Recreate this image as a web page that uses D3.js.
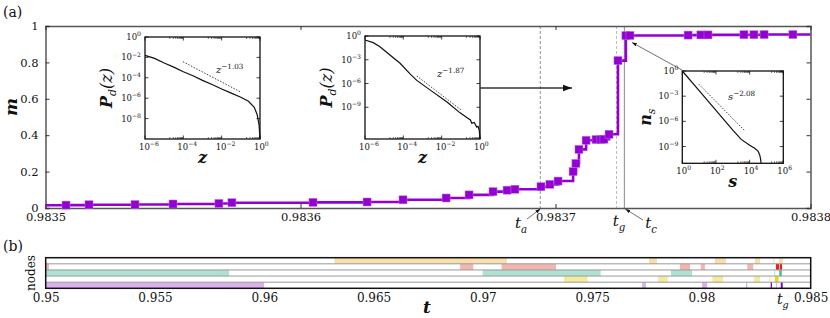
<!DOCTYPE html>
<html>
<head>
<meta charset="utf-8">
<script src="https://cdn.jsdelivr.net/npm/d3@7"></script>
<style>
  body { margin: 0; background: #fff; }
  svg text, svg tspan { font-family: "DejaVu Serif", "Liberation Serif", serif; fill: #111; }
</style>
</head>
<body>
<div id="chart"></div>
<script>
// ---- data, panel (a): order parameter m(t)
var tValues = [0.98350804, 0.98351706, 0.9835351, 0.98355, 0.983568, 0.9835731,
    0.9836049, 0.9836261, 0.9836402, 0.9836571, 0.9836661, 0.9836755, 0.983681,
    0.9836841, 0.9836943, 0.9836978, 0.983701, 0.9837069, 0.983708, 0.9837092,
    0.983712, 0.9837159, 0.9837178, 0.983719, 0.983721, 0.9837245, 0.9837276,
    0.9837292, 0.983752, 0.983757, 0.9837598, 0.9837739, 0.9837778, 0.9837818,
    0.9837931];
var mValues = [0.016, 0.018, 0.019, 0.022, 0.025, 0.029,
    0.031, 0.033, 0.045, 0.055, 0.072, 0.090, 0.098,
    0.103, 0.117, 0.130, 0.148, 0.200, 0.245, 0.322,
    0.372, 0.376, 0.376, 0.378, 0.405, 0.810, 0.947,
    0.948, 0.950, 0.951, 0.951, 0.952, 0.952, 0.953,
    0.953];
var mStart = 0.015, mEnd = 0.953;
var xTicksA = [0.9835, 0.9836, 0.9837, 0.9838];
var yTicksA = [0, 0.2, 0.4, 0.6, 0.8, 1];
var tA = 0.98369404, tG = 0.9837245, tC = 0.983727;

// ---- insets (log10 values)
var in1LogZ = [-6, -5.5, -5, -4.5, -4, -3.5, -3, -2.5, -2, -1.5, -1, -0.6, -0.3, -0.15, -0.05, 0];
var in1LogP = [-1.8, -2.1, -2.55, -2.95, -3.4, -3.8, -4.25, -4.65, -5.1, -5.5, -5.9, -6.3, -6.9, -7.6, -8.6, -10];
var in1Fit = [[-4.02, -2.42], [-1.04, -5.36]];
var in2LogZ = [-6, -5.57, -5.22, -4.7, -4.17, -3.65, -3.3, -2.61, -1.74, -1.04, -0.69, -0.5, -0.43, -0.3, -0.17, -0.1, -0.04, 0];
var in2LogP = [-0.5, -0.84, -1.35, -2.4, -3.44, -4.79, -5.6, -6.8, -8.3, -9.7, -10.3, -10.6, -11.0, -10.9, -11.5, -11.4, -11.9, -13];
var in2Fit = [[-3.3, -5.04], [-0.99, -9.33]];
var in3LogS = [0, 1, 2, 3, 3.5, 4, 4.3, 4.5, 4.6, 4.65, 4.68];
var in3LogN = [0, -2.35, -4.7, -7.05, -8.15, -8.85, -9.2, -9.55, -10.0, -10.5, -11];
var in3Fit = [[0.99, -1.58], [3.69, -7.08]];

// ---- data, panel (b): active nodes
var rowsB = ["n1", "n2", "n3", "n4", "n5"];
var xTicksB = [0.95, 0.955, 0.96, 0.965, 0.97, 0.975, 0.98, 0.985];
var segRow   = ["n1","n1","n1","n1","n1","n1",
                "n2","n2","n2","n2","n2","n2","n2","n2",
                "n3","n3","n3","n3","n3",
                "n4","n4","n4","n4","n4","n4",
                "n5","n5","n5","n5","n5","n5","n5"];
var segStart = [0.96321, 0.97760, 0.98062, 0.98245, 0.98329, 0.98355,
                0.95001, 0.96896, 0.97086, 0.97902, 0.97997, 0.98210, 0.98341, 0.98359,
                0.95, 0.96999, 0.97861, 0.98333, 0.98356,
                0.97371, 0.97801, 0.98050, 0.98241, 0.98311, 0.98337,
                0.95, 0.97729, 0.98003, 0.98204, 0.98317, 0.98341, 0.98363];
var segEnd   = [0.97110, 0.97797, 0.98113, 0.98268, 0.98330, 0.98372,
                0.95015, 0.96956, 0.97335, 0.97948, 0.98016, 0.98237, 0.98356, 0.98369,
                0.95839, 0.97539, 0.97957, 0.98334, 0.98368,
                0.97480, 0.97846, 0.98100, 0.98268, 0.98317, 0.98353,
                0.95999, 0.97746, 0.98026, 0.98210, 0.98323, 0.98342, 0.98372];
var segDark  = [0,0,0,0,0,0,
                0,0,0,0,0,0,1,1,
                0,0,0,0,1,
                0,0,0,0,0,1,
                0,0,0,0,1,0,1];

// ---- colours
var rowLight = {n1: "#f6dfac", n2: "#f3b6ae", n3: "#aee0d3", n4: "#f3ec9c", n5: "#dcb0ee"};
var rowDark  = {n1: "#f0b050", n2: "#e3241c", n3: "#52b8a6", n4: "#e6da10", n5: "#8a00d4"};
var purple = "#9400d3";

var W = 830, H = 318;
var svg = d3.select("#chart").append("svg")
    .attr("width", W)
    .attr("height", H);

var defs = svg.append("defs");
defs.append("marker")
    .attr("id", "arr")
    .attr("viewBox", "0 0 10 10")
    .attr("refX", 10).attr("refY", 5)
    .attr("markerWidth", 7).attr("markerHeight", 7)
    .attr("orient", "auto")
  .append("path")
    .attr("d", "M0,1.5 L10,5 L0,8.5 Z")
    .attr("fill", "#111");

// ================= panel (a) =================
var A = {left: 45.5, right: 810.5, top: 26, bottom: 208};
var x = d3.scaleLinear().domain([0.9835, 0.9838]).range([A.left, A.right]);
var y = d3.scaleLinear().domain([0, 1]).range([A.bottom, A.top]);

svg.append("text").attr("x", 3).attr("y", 17).style("font-size", "14px").text("(a)");

// reference lines for t_a, t_g, t_c
svg.append("line")
    .attr("x1", x(tA)).attr("x2", x(tA)).attr("y1", A.top).attr("y2", A.bottom)
    .attr("stroke", "#777").attr("stroke-width", 0.8).attr("stroke-dasharray", "3,2");
svg.append("line")
    .attr("x1", x(tG) - 1.5).attr("x2", x(tG) - 1.5).attr("y1", A.top).attr("y2", A.bottom)
    .attr("stroke", "#aaa").attr("stroke-width", 0.8).attr("stroke-dasharray", "3,2");
svg.append("line")
    .attr("x1", x(tC)).attr("x2", x(tC)).attr("y1", A.top).attr("y2", A.bottom)
    .attr("stroke", "#888").attr("stroke-width", 1);

// axes, ticks inward, mirrored
var fmtY = function(d) { return d3.format("~g")(d); };
svg.append("g").attr("transform", "translate(0," + A.bottom + ")")
    .call(d3.axisBottom(x).tickValues(xTicksA).tickFormat(d3.format(".4f")).tickSize(-4).tickPadding(5));
svg.append("g").attr("transform", "translate(0," + A.top + ")")
    .call(d3.axisTop(x).tickValues(xTicksA).tickFormat("").tickSize(-4));
svg.append("g").attr("transform", "translate(" + A.left + ",0)")
    .call(d3.axisLeft(y).tickValues(yTicksA).tickFormat(fmtY).tickSize(-4).tickPadding(7));
svg.append("g").attr("transform", "translate(" + A.right + ",0)")
    .call(d3.axisRight(y).tickValues(yTicksA).tickFormat("").tickSize(-4));
svg.selectAll(".domain").attr("stroke", "#555").attr("stroke-width", 1.5);
svg.selectAll(".tick line").attr("stroke", "#333");
svg.selectAll("g").attr("font-family", null);
svg.selectAll(".tick text").style("font-size", "11.5px").attr("fill", "#111");

// m(t) step line and markers
var linePts = [[x.domain()[0], mStart]]
    .concat(tValues.map(function(t, i) { return [t, mValues[i]]; }))
    .concat([[x.domain()[1], mEnd]]);
var line = d3.line()
    .x(function(d) { return x(d[0]); })
    .y(function(d) { return y(d[1]); })
    .curve(d3.curveStepAfter);
svg.append("path").datum(linePts)
    .attr("d", line).attr("fill", "none")
    .attr("stroke", purple).attr("stroke-width", 2.6);
svg.selectAll(".node")
    .data(tValues)
    .enter()
    .append("rect")
    .attr("x", function(d) { return x(d) - 4; })
    .attr("y", function(d, i) { return y(mValues[i]) - 4; })
    .attr("width", 8).attr("height", 8)
    .attr("fill", purple)
    .attr("stroke", "#b870e0").attr("stroke-width", 0.5)
    .classed("node", true);

svg.append("text")
    .attr("transform", "translate(17,107) rotate(-90)")
    .attr("text-anchor", "middle")
    .style("font-size", "17px").style("font-style", "italic").style("font-weight", "bold")
    .text("m");

// t labels under axis
function subLabel(g, xx, yy, base, sub, size) {
    var t = g.append("text").attr("x", xx).attr("y", yy)
        .attr("text-anchor", "middle")
        .style("font-size", size + "px").style("font-style", "italic");
    t.append("tspan").text(base);
    t.append("tspan").attr("dy", size * 0.3).style("font-size", (size * 0.68) + "px").text(sub);
    return t;
}
subLabel(svg, 521, 228, "t", "a", 15);
subLabel(svg, 619, 226, "t", "g", 15);
subLabel(svg, 651, 228, "t", "c", 15);
svg.append("line").attr("x1", 527).attr("y1", 219).attr("x2", x(tA)).attr("y2", A.bottom + 1)
    .attr("stroke", "#333").attr("stroke-width", 0.7).attr("marker-end", "url(#arr)");
svg.append("line").attr("x1", 643).attr("y1", 220).attr("x2", x(tC) + 1).attr("y2", A.bottom + 1)
    .attr("stroke", "#333").attr("stroke-width", 0.7).attr("marker-end", "url(#arr)");

// ---- inset helper
function powLabel(g, xx, yy, base, exp, bsize, italic) {
    var t = g.append("text").attr("x", xx).attr("y", yy).style("font-size", bsize + "px");
    var b = t.append("tspan").text(base);
    if (italic) b.style("font-style", "italic");
    t.append("tspan").attr("dy", -bsize * 0.45).style("font-size", (bsize * 0.72) + "px")
        .attr("fill", "#111").text(exp);
    return t;
}
function minus(n) { return n < 0 ? "\u2212" + (-n) : "" + n; }

function drawInset(box, xDom, yDom, xMaj, yMaj, xs, ys, fit, fitText, ylab, xlab) {
    var g = svg.append("g");
    var sx = d3.scaleLinear().domain(xDom).range([box.x0, box.x1]);
    var sy = d3.scaleLinear().domain(yDom).range([box.y1, box.y0]);
    g.append("rect").attr("x", box.x0).attr("y", box.y0)
        .attr("width", box.x1 - box.x0).attr("height", box.y1 - box.y0)
        .attr("fill", "#fff");
    // minor ticks on x (decade below each major)
    xMaj.forEach(function(v) {
        if (v - 1 < xDom[0]) return;
        for (var k = 2; k <= 9; k++) {
            var xx = sx(v - 1 + Math.log10(k));
            g.append("line").attr("x1", xx).attr("x2", xx).attr("y1", box.y1).attr("y2", box.y1 - 2)
                .attr("stroke", "#111").attr("stroke-width", 0.6);
            g.append("line").attr("x1", xx).attr("x2", xx).attr("y1", box.y0).attr("y2", box.y0 + 2)
                .attr("stroke", "#111").attr("stroke-width", 0.6);
        }
    });
    xMaj.forEach(function(v) {
        var xx = sx(v);
        g.append("line").attr("x1", xx).attr("x2", xx).attr("y1", box.y1).attr("y2", box.y1 - 3.5)
            .attr("stroke", "#111").attr("stroke-width", 0.8);
        g.append("line").attr("x1", xx).attr("x2", xx).attr("y1", box.y0).attr("y2", box.y0 + 3.5)
            .attr("stroke", "#111").attr("stroke-width", 0.8);
        powLabel(g, xx - 6, box.y1 + 11, "10", minus(v), 8.5, false);
    });
    yMaj.forEach(function(v) {
        var yy = sy(v);
        g.append("line").attr("x1", box.x0).attr("x2", box.x0 + 3.5).attr("y1", yy).attr("y2", yy)
            .attr("stroke", "#111").attr("stroke-width", 0.8);
        g.append("line").attr("x1", box.x1).attr("x2", box.x1 - 3.5).attr("y1", yy).attr("y2", yy)
            .attr("stroke", "#111").attr("stroke-width", 0.8);
        var t = powLabel(g, box.x0 - 4, yy + 3, "10", minus(v), 8.5, false);
        t.attr("text-anchor", "end");
    });
    g.append("rect").attr("x", box.x0).attr("y", box.y0)
        .attr("width", box.x1 - box.x0).attr("height", box.y1 - box.y0)
        .attr("fill", "none").attr("stroke", "#111").attr("stroke-width", 1.3);
    var ln = d3.line()
        .x(function(d) { return sx(d[0]); })
        .y(function(d) { return sy(d[1]); });
    g.append("path").datum(xs.map(function(v, i) { return [v, ys[i]]; }))
        .attr("d", ln).attr("fill", "none").attr("stroke", "#111").attr("stroke-width", 1.2);
    g.append("path").datum(fit)
        .attr("d", ln).attr("fill", "none").attr("stroke", "#111")
        .attr("stroke-width", 0.8).attr("stroke-dasharray", "1.5,1.5");
    powLabel(g, fitText.x, fitText.y, fitText.base, fitText.exp, 10, true);
    // axis titles
    var yl = g.append("text")
        .attr("transform", "translate(" + ylab.x + "," + ((box.y0 + box.y1) / 2) + ") rotate(-90)")
        .attr("text-anchor", "middle").style("font-size", "16px").style("font-style", "italic");
    yl.append("tspan").style("font-weight", "bold").text(ylab.base);
    yl.append("tspan").attr("dy", 4).style("font-size", "11px").text(ylab.sub);
    if (ylab.arg) yl.append("tspan").attr("dy", -4).text(ylab.arg);
    g.append("text").attr("x", (box.x0 + box.x1) / 2).attr("y", box.y1 + 24)
        .attr("text-anchor", "middle").style("font-size", "16px").style("font-style", "italic")
        .style("font-weight", "bold").text(xlab);
    return g;
}

drawInset({x0: 145, x1: 260, y0: 37, y1: 139}, [-6, 0], [-10, 0],
    [-6, -4, -2, 0], [0, -2, -4, -6, -8], in1LogZ, in1LogP, in1Fit,
    {x: 216, y: 73, base: "z", exp: "\u22121.03"},
    {x: 112, base: "P", sub: "d", arg: "(z)"}, "z");
drawInset({x0: 365, x1: 480, y0: 36, y1: 139}, [-6, 0], [-13, 0],
    [-6, -4, -2, 0], [0, -3, -6, -9], in2LogZ, in2LogP, in2Fit,
    {x: 437, y: 77, base: "z", exp: "\u22121.87"},
    {x: 332, base: "P", sub: "d", arg: "(z)"}, "z");
drawInset({x0: 682.3, x1: 783.3, y0: 71, y1: 163.3}, [0, 6], [-11, 0],
    [0, 2, 4, 6], [0, -3, -6, -9], in3LogS, in3LogN, in3Fit,
    {x: 728, y: 100, base: "s", exp: "\u22122.08"},
    {x: 651, base: "n", sub: "s", arg: ""}, "s");

// arrows between insets and curve
svg.append("line").attr("x1", 480).attr("y1", 88).attr("x2", 572).attr("y2", 88)
    .attr("stroke", "#333").attr("stroke-width", 1.3).attr("marker-end", "url(#arr)");
svg.append("line").attr("x1", 682).attr("y1", 70).attr("x2", 632).attr("y2", 42.5)
    .attr("stroke", "#333").attr("stroke-width", 0.7).attr("marker-end", "url(#arr)");

// ================= panel (b) =================
var B = {left: 45.7, right: 810.7, top: 257.7, bottom: 288.3};
var xb = d3.scaleLinear().domain([0.95, 0.985]).range([B.left, B.right]);
var yb = d3.scaleBand().domain(rowsB).range([B.top, B.bottom]);

svg.append("text").attr("x", 3).attr("y", 251).style("font-size", "14px").text("(b)");

var gb = svg.append("g");
gb.selectAll(".seg")
    .data(segRow)
    .enter()
    .append("rect")
    .attr("x", function(d, i) { return xb(segStart[i]); })
    .attr("y", function(d) { return yb(d); })
    .attr("width", function(d, i) { return Math.max(1, xb(segEnd[i]) - xb(segStart[i])); })
    .attr("height", yb.bandwidth())
    .attr("fill", function(d, i) { return segDark[i] ? rowDark[d] : rowLight[d]; });
rowsB.slice(1).forEach(function(r) {
    gb.append("line").attr("x1", B.left).attr("x2", B.right)
        .attr("y1", yb(r)).attr("y2", yb(r))
        .attr("stroke", "#999").attr("stroke-width", 1);
});
gb.append("rect").attr("x", B.left).attr("y", B.top)
    .attr("width", B.right - B.left).attr("height", B.bottom - B.top)
    .attr("fill", "none").attr("stroke", "#111").attr("stroke-width", 1.5);

var axB = svg.append("g").attr("transform", "translate(0," + B.bottom + ")")
    .call(d3.axisBottom(xb).tickValues(xTicksB).tickFormat(d3.format("~g")).tickSize(0).tickPadding(5));
axB.attr("font-family", null);
axB.select(".domain").remove();
axB.selectAll(".tick text").style("font-size", "12px").attr("fill", "#111");

subLabel(svg, xb(tG), 304, "t", "g", 14);
svg.append("text").attr("x", 427).attr("y", 313).attr("text-anchor", "middle")
    .style("font-size", "17px").style("font-style", "italic").style("font-weight", "bold").text("t");
svg.append("text")
    .attr("transform", "translate(35,273) rotate(-90)")
    .attr("text-anchor", "middle").style("font-size", "12px").text("nodes");
</script>
</body>
</html>
